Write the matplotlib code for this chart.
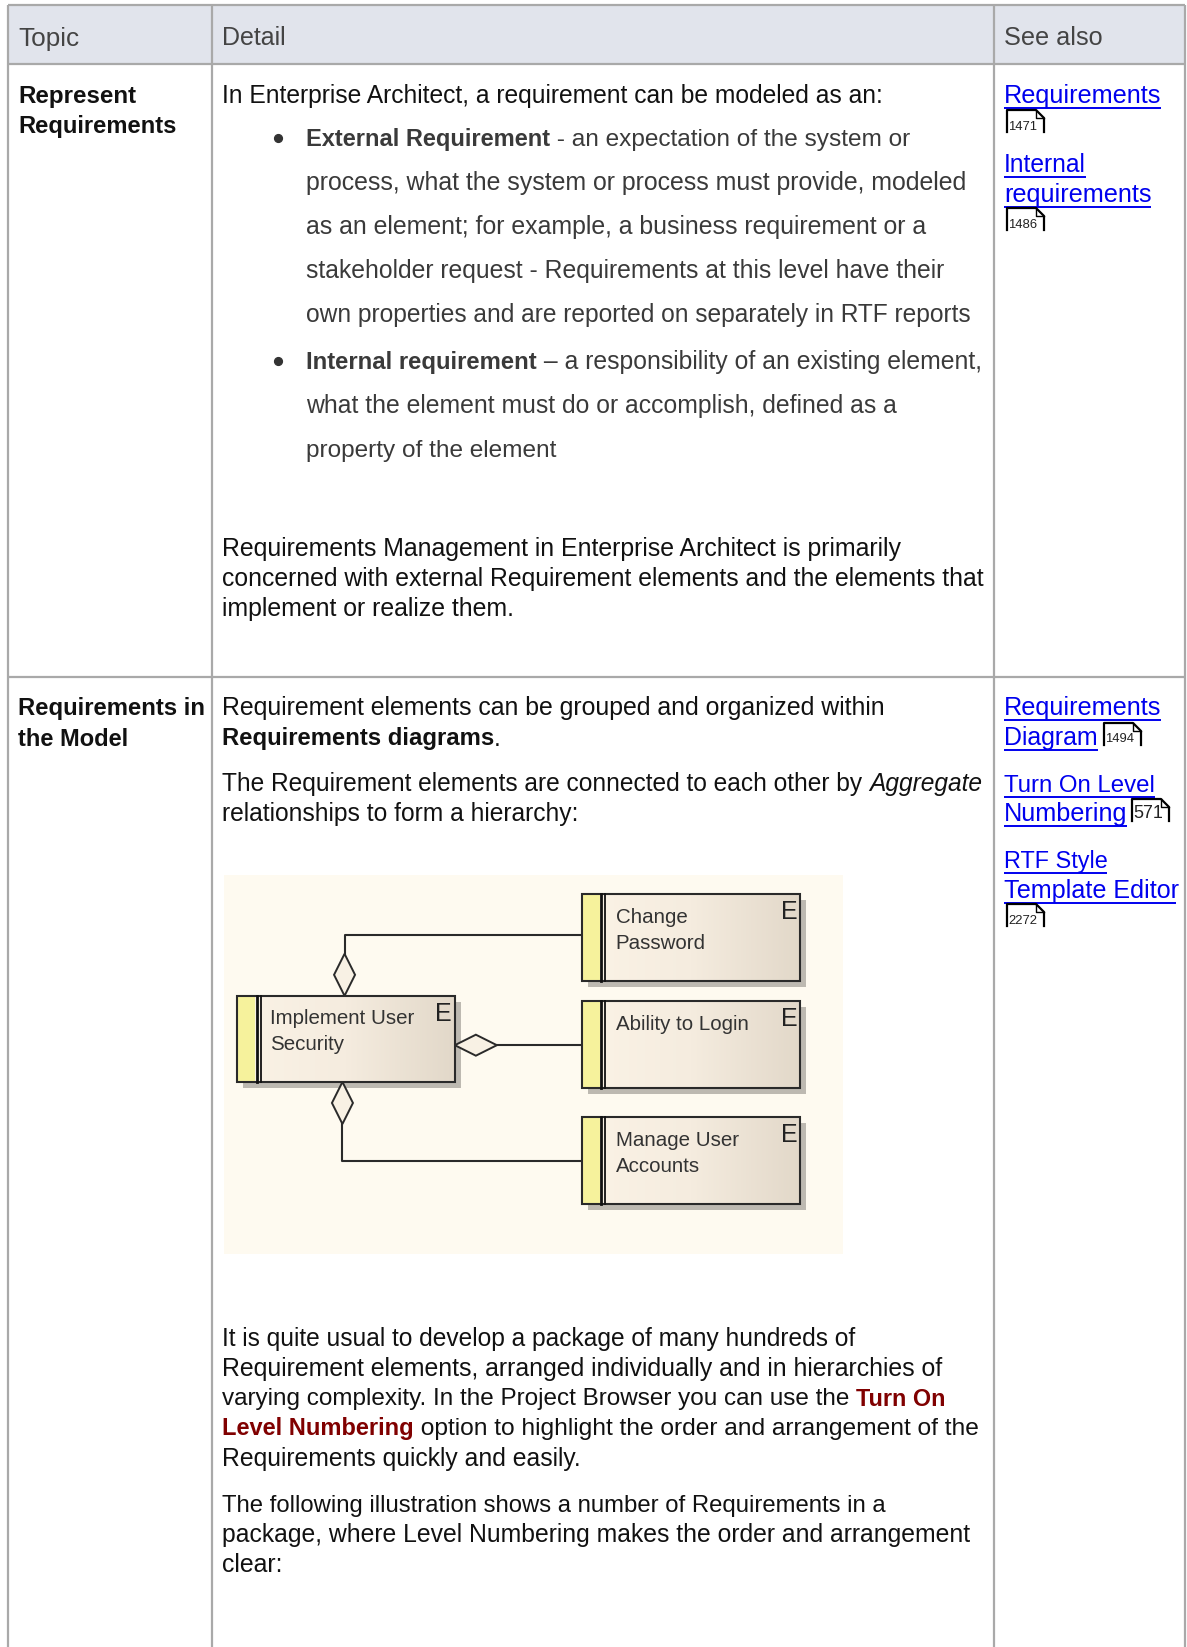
import numpy as np
import matplotlib
matplotlib.use('Agg')
import matplotlib.pyplot as plt
from matplotlib.patches import Rectangle, Polygon

plt.rcParams['font.family'] = ['Liberation Sans', 'DejaVu Sans']

W, H = 1187, 1647
SIZE = 17.8

headers = ['Topic', 'Detail', 'See also']
topics = [['Represent', 'Requirements'], ['Requirements in', 'the Model']]

# each line is a list of (text, style) runs
intro_lines = [[('In Enterprise Architect, a requirement can be modeled as an:', 'n')]]
bullet_lines = [
    [('External Requirement', 'gb'), (' - an expectation of the system or', 'g')],
    [('process, what the system or process must provide, modeled', 'g')],
    [('as an element; for example, a business requirement or a', 'g')],
    [('stakeholder request - Requirements at this level have their', 'g')],
    [('own properties and are reported on separately in RTF reports', 'g')],
    [('Internal requirement', 'gb'), (' \u2013 a responsibility of an existing element,', 'g')],
    [('what the element must do or accomplish, defined as a', 'g')],
    [('property of the element', 'g')],
]
mgmt_lines = [
    [('Requirements Management in Enterprise Architect is primarily', 'n')],
    [('concerned with external Requirement elements and the elements that', 'n')],
    [('implement or realize them.', 'n')],
]
model_lines = [
    [('Requirement elements can be grouped and organized within', 'n')],
    [('Requirements diagrams', 'b'), ('.', 'n')],
    [('The Requirement elements are connected to each other by ', 'n'), ('Aggregate', 'i')],
    [('relationships to form a hierarchy:', 'n')],
]
package_lines = [
    [('It is quite usual to develop a package of many hundreds of', 'n')],
    [('Requirement elements, arranged individually and in hierarchies of', 'n')],
    [('varying complexity. In the Project Browser you can use the ', 'n'), ('Turn On', 'r')],
    [('Level Numbering', 'r'), (' option to highlight the order and arrangement of the', 'n')],
    [('Requirements quickly and easily.', 'n')],
]
illustration_lines = [
    [('The following illustration shows a number of Requirements in a', 'n')],
    [('package, where Level Numbering makes the order and arrangement', 'n')],
    [('clear:', 'n')],
]
links = ['Requirements', 'Internal', 'requirements', 'Requirements', 'Diagram',
         'Turn On Level', 'Numbering', 'RTF Style', 'Template Editor']
page_refs = ['1471', '1486', '1494', '571', '2272']
nodes = [['Implement User', 'Security'], ['Change', 'Password'],
         ['Ability to Login'], ['Manage User', 'Accounts']]

# where each line ends in the reference (read on the shrunk picture)
header_ends = [75, 272, 1049]
topic_ends = [[129, 168], [195, 122]]
intro_ends = [842]
bullet_ends = [866, 921, 883, 899, 925, 935, 856, 530]
mgmt_ends = [858, 938, 490]
model_ends = [843, 477, 937, 552]
package_ends = [815, 899, 899, 931, 554]
illustration_ends = [843, 926, 269]
link_ends = [1105, 1034, 1096, 1105, 1045, 1100, 1073, 1054, 1120]

STYLES = {
    'n': dict(color='#111111'),
    'b': dict(color='#111111', fontweight='bold'),
    'i': dict(color='#111111', fontstyle='italic'),
    'g': dict(color='#3a3a3a'),
    'gb': dict(color='#3a3a3a', fontweight='bold'),
    'r': dict(color='#800000', fontweight='bold'),
    'h': dict(color='#444444'),
    'l': dict(color='#0000ee'),
}

fig = plt.figure(figsize=(W / 100, H / 100), dpi=100)
ax = fig.add_axes([0, 0, 1, 1])
ax.set_xlim(0, W)
ax.set_ylim(H, 0)
ax.axis('off')
renderer = fig.canvas.get_renderer()


def s(v):
    # reference read on the shrunk picture
    return v * W / 1130


def base_size(style):
    return 17.2 if 'fontweight' in STYLES[style] else SIZE


def advance(txt, style, size):
    # width with trailing spaces counted
    t1 = ax.text(0, 0, txt + '.', fontsize=size, **STYLES[style])
    t2 = ax.text(0, 0, '.', fontsize=size, **STYLES[style])
    w = t1.get_window_extent(renderer).width - t2.get_window_extent(renderer).width
    t1.remove()
    t2.remove()
    return w


def draw_line(x, y, runs, end):
    # font size nudged per line so it stops where the reference line stops
    natural = sum(advance(t, st, base_size(st)) for t, st in runs)
    k = (s(end) - x) / natural
    for txt, style in runs:
        size = base_size(style) * k
        ax.text(x, y, txt, fontsize=size, va='baseline', ha='left', **STYLES[style])
        x += advance(txt, style, size)
    return x


# table frame
GRID = '#a9a9a9'
ax.add_patch(Rectangle((8, 5), 1177, 59, fc='#e1e4ec', ec='none'))
for x in [8, 212, 994, 1185]:
    ax.plot([x, x], [5, H], color=GRID, lw=1.6, solid_capstyle='butt')
for y in [5, 64, 677]:
    ax.plot([8, 1185], [y, y], color=GRID, lw=1.6, solid_capstyle='butt')

for x, h, e, y in zip([18, 222, 1004], headers, header_ends, [46, 45, 45]):
    draw_line(x, y, [(h, 'h')], e)

for y0, topic, ends in zip([103.5, 715.5], topics, topic_ends):
    for i, t in enumerate(topic):
        draw_line(18, y0 + i * 30, [(t, 'b')], ends[i])

# detail text
draw_line(222, 103.5, intro_lines[0], intro_ends[0])
for y, line, e in zip([146, 190, 234, 278, 322, 369, 413, 457], bullet_lines, bullet_ends):
    draw_line(306, y, line, e)
for y in [146, 369]:
    ax.plot(278, y - 8, 'o', ms=5.6, color='#333333')
for y, line, e in zip([556, 586, 616], mgmt_lines, mgmt_ends):
    draw_line(222, y, line, e)
for y, line, e in zip([715.5, 745.5, 791, 821], model_lines, model_ends):
    draw_line(222, y, line, e)
for y, line, e in zip([1346, 1376, 1405.5, 1435.5, 1466], package_lines, package_ends):
    draw_line(222, y, line, e)
for y, line, e in zip([1512, 1542, 1572], illustration_lines, illustration_ends):
    draw_line(222, y, line, e)

# see also links
link_y = [103, 172, 202, 715.5, 745, 792, 821, 868, 898]
for y, t, e in zip(link_y, links, link_ends):
    draw_line(1004, y, [(t, 'l')], e)
    ax.plot([1004, s(e)], [y + 4.5, y + 4.5], color='#0000ee', lw=1.4, solid_capstyle='butt')

# page reference icons
icon_pos = [(1007, 110), (1007, 208), (1104, 723), (1132, 799), (1007, 904)]
for (x, y), ref in zip(icon_pos, page_refs):
    ax.plot([x, x, x + 29, x + 37, x + 37], [y + 22, y, y, y + 8, y + 22], color='black', lw=1.6)
    ax.plot([x + 29, x + 29, x + 37], [y, y + 8, y + 8], color='black', lw=1)
    fs = 13 if ref == '571' else 9.4
    ax.text(x + 1.5, y + 19.5, ref, fontsize=fs, color='#222222', va='baseline')

# embedded diagram
ax.add_patch(Rectangle((224, 875), 619, 379, fc='#fefaf0', ec='none', zorder=1))
gradient = np.linspace(0, 1, 256).reshape(1, -1)
cmap = matplotlib.colors.LinearSegmentedColormap.from_list('box', ['#fbf3e6', '#f5ecdf', '#e2d8c9'])


def box(x0, x1, y0, y1, lines, tx, base):
    x0, x1, y0, y1 = s(x0), s(x1), s(y0), s(y1)
    ax.add_patch(Rectangle((x0 + 6, y0 + 6), x1 - x0, y1 - y0, fc='#bdb9b1', ec='none', zorder=2))
    ax.imshow(gradient, extent=(x0, x1, y1, y0), cmap=cmap, aspect='auto', zorder=3)
    ax.add_patch(Rectangle((x0, y0), 18, y1 - y0, fc='#f6f29c', ec='none', zorder=4))
    ax.add_patch(Rectangle((x0, y0), x1 - x0, y1 - y0, fc='none', ec='#2a2a2a', lw=1.5, zorder=5))
    ax.plot([x0 + 19.5, x0 + 19.5], [y0, y1], color='#111111', lw=2, zorder=5)
    ax.plot([x0 + 23.5, x0 + 23.5], [y0, y1], color='#111111', lw=1.3, zorder=5)
    for i, t in enumerate(lines):
        ax.text(s(tx), s(base) + i * 26, t, fontsize=14.8, color='#333333', va='baseline', zorder=6)
    ax.text(x1 - 3, y0 + 25, 'E', fontsize=18, color='#222222', ha='right', va='baseline', zorder=6)


box(226, 433, 948, 1030, nodes[0], 257, 975)
box(554, 762, 851, 934, nodes[1], 586, 879)
box(554, 762, 953, 1036, nodes[2], 586, 981)
box(554, 762, 1063, 1146, nodes[3], 586, 1091)
ax.set_xlim(0, W)
ax.set_ylim(H, 0)

# connectors and aggregate diamonds
LC = '#2a2a2a'
ax.plot([s(328), s(328), s(554)], [s(908), s(890), s(890)], color=LC, lw=1.5, zorder=2.5)
ax.plot([s(473), s(554)], [s(995), s(995)], color=LC, lw=1.5, zorder=2.5)
ax.plot([s(326), s(326), s(554)], [s(1070), s(1105), s(1105)], color=LC, lw=1.5, zorder=2.5)
for pts in [[(328, 948), (318, 928), (328, 908), (338, 928)],
            [(433, 995), (453, 985), (473, 995), (453, 1005)],
            [(326, 1030), (316, 1050), (326, 1070), (336, 1050)]]:
    ax.add_patch(Polygon([(s(a), s(b)) for a, b in pts], closed=True, fc='#f8f1e4', ec=LC, lw=1.4, zorder=7))

fig.savefig('out.png', dpi=100)
